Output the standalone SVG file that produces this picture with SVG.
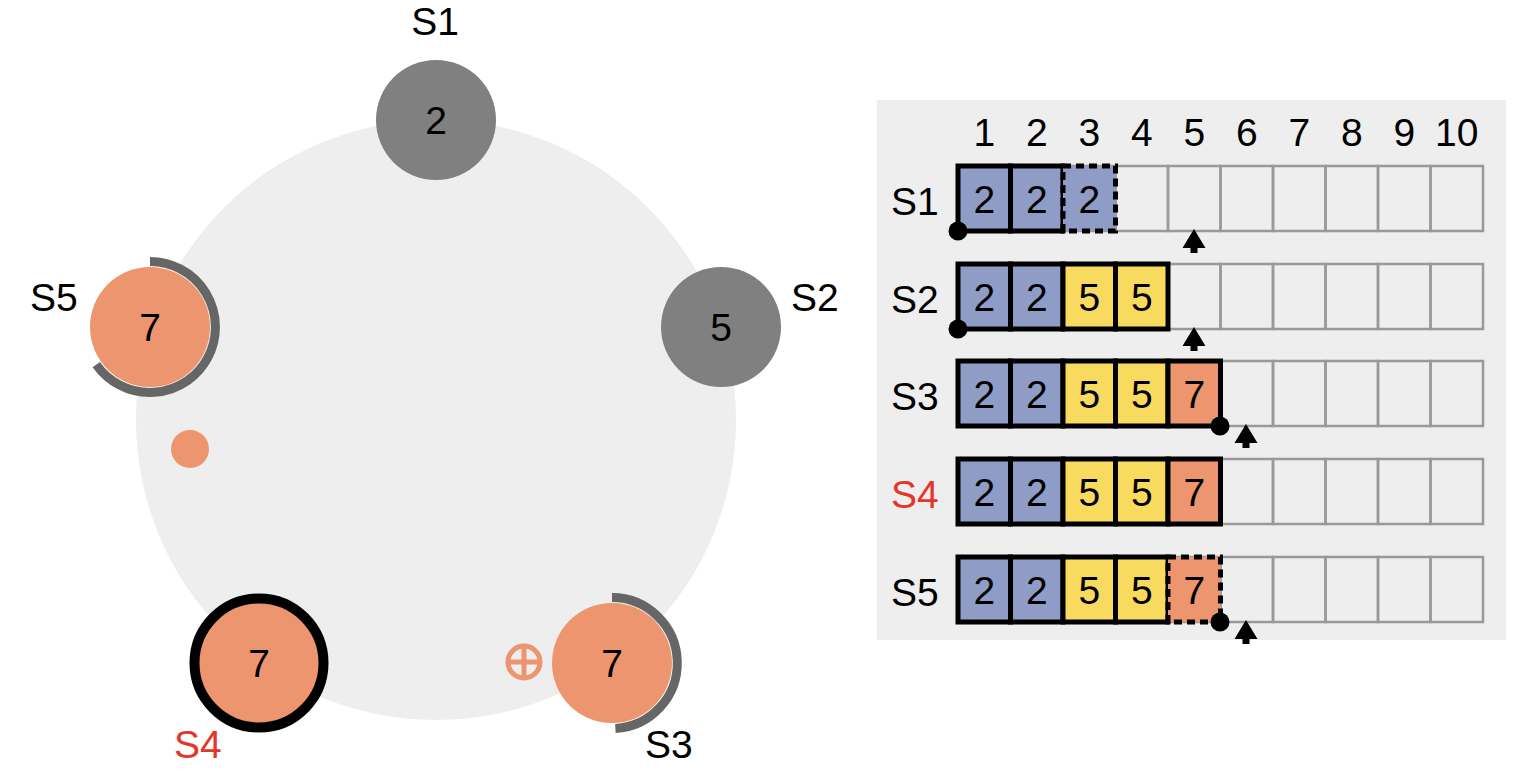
<svg xmlns="http://www.w3.org/2000/svg" width="1524" height="780" viewBox="0 0 1524 780">
<style>
text{font-family:"Liberation Sans",Arial,sans-serif;font-size:39px;fill:#000}
.c{text-anchor:middle}
.red{fill:#E5352A}
.gray{fill:#808080}
.org{fill:#EC956E}
.arc{fill:none;stroke:#666;stroke-width:9}
.grid{fill:none;stroke:#999;stroke-width:2.5}
.cell{stroke:#000;stroke-width:5}
.dash{stroke:#000;stroke-width:5;stroke-dasharray:8 5}
.b{fill:#8F9DC6}
.y{fill:#F8DB5E}
.o{fill:#EC956E}
</style>
<defs>
<path id="arrow" d="M0,-2 L11.5,17 L3.5,17 L3.5,22 L-3.5,22 L-3.5,17 L-11.5,17 Z" fill="#000"/>
<g id="gridrow">
<rect class="grid" x="958" y="0" width="52.5" height="65"/>
<rect class="grid" x="1010.5" y="0" width="52.5" height="65"/>
<rect class="grid" x="1063" y="0" width="52.5" height="65"/>
<rect class="grid" x="1115.5" y="0" width="52.5" height="65"/>
<rect class="grid" x="1168" y="0" width="52.5" height="65"/>
<rect class="grid" x="1220.5" y="0" width="52.5" height="65"/>
<rect class="grid" x="1273" y="0" width="52.5" height="65"/>
<rect class="grid" x="1325.5" y="0" width="52.5" height="65"/>
<rect class="grid" x="1378" y="0" width="52.5" height="65"/>
<rect class="grid" x="1430.5" y="0" width="52.5" height="65"/>
</g>
</defs>
<rect width="1524" height="780" fill="#fff"/>
<circle cx="436" cy="420" r="300" fill="#EEEEEE"/>
<g id="node-S1">
<circle cx="436" cy="120" r="60" class="gray"/>
<text class="c" x="436" y="134">2</text>
<text class="c" x="435" y="35">S1</text>
</g>
<g id="node-S2">
<circle cx="721" cy="327" r="60" class="gray"/>
<text class="c" x="721" y="341">5</text>
<text x="791" y="311">S2</text>
</g>
<g id="node-S5">
<path class="arc" d="M150,261.5 A65.5,65.5 0 1 1 96.3,364.6"/>
<circle cx="150" cy="327" r="60" class="org"/>
<text class="c" x="150" y="341">7</text>
<text x="30" y="311">S5</text>
</g>
<g id="node-dot">
<circle cx="190" cy="449" r="19" class="org"/>
</g>
<g id="node-S4">
<circle cx="259" cy="663" r="64.5" fill="#EC956E" stroke="#000" stroke-width="10"/>
<text class="c" x="259" y="677">7</text>
<text class="red" x="174" y="758">S4</text>
</g>
<g id="node-S3">
<path class="arc" d="M612,597.5 A65.5,65.5 0 0 1 615.4,728.4"/>
<circle cx="612" cy="663" r="60" class="org"/>
<text class="c" x="612" y="677">7</text>
<text x="645" y="758">S3</text>
<g fill="none" stroke="#EC956E" stroke-width="5">
<circle cx="524" cy="662" r="16"/>
<line x1="524" y1="646" x2="524" y2="678"/>
<line x1="508" y1="662" x2="540" y2="662"/>
</g>
</g>
<g id="log-panel">
<rect x="877" y="100" width="629" height="540" fill="#EEEEEE"/>
<g id="headers">
<text class="c" x="984.25" y="146">1</text>
<text class="c" x="1036.75" y="146">2</text>
<text class="c" x="1089.25" y="146">3</text>
<text class="c" x="1141.75" y="146">4</text>
<text class="c" x="1194.25" y="146">5</text>
<text class="c" x="1246.75" y="146">6</text>
<text class="c" x="1299.25" y="146">7</text>
<text class="c" x="1351.75" y="146">8</text>
<text class="c" x="1404.25" y="146">9</text>
<text class="c" x="1456.75" y="146">10</text>
</g>
<g id="row-S1">
<use href="#gridrow" y="166"/>
<text x="891" y="215">S1</text>
<rect class="cell b" x="958" y="166" width="52.5" height="65"/>
<rect class="cell b" x="1010.5" y="166" width="52.5" height="65"/>
<rect class="dash b" x="1063" y="166" width="52.5" height="65"/>
<text class="c" x="984.25" y="213">2</text>
<text class="c" x="1036.75" y="213">2</text>
<text class="c" x="1089.25" y="213">2</text>
<circle cx="958" cy="231" r="9.5"/>
<use href="#arrow" x="1194" y="231"/>
</g>
<g id="row-S2">
<use href="#gridrow" y="264"/>
<text x="891" y="313">S2</text>
<rect class="cell b" x="958" y="264" width="52.5" height="65"/>
<rect class="cell b" x="1010.5" y="264" width="52.5" height="65"/>
<rect class="cell y" x="1063" y="264" width="52.5" height="65"/>
<rect class="cell y" x="1115.5" y="264" width="52.5" height="65"/>
<text class="c" x="984.25" y="311">2</text>
<text class="c" x="1036.75" y="311">2</text>
<text class="c" x="1089.25" y="311">5</text>
<text class="c" x="1141.75" y="311">5</text>
<circle cx="958" cy="329" r="9.5"/>
<use href="#arrow" x="1194" y="329"/>
</g>
<g id="row-S3">
<use href="#gridrow" y="361"/>
<text x="891" y="410">S3</text>
<rect class="cell b" x="958" y="361" width="52.5" height="65"/>
<rect class="cell b" x="1010.5" y="361" width="52.5" height="65"/>
<rect class="cell y" x="1063" y="361" width="52.5" height="65"/>
<rect class="cell y" x="1115.5" y="361" width="52.5" height="65"/>
<rect class="cell o" x="1168" y="361" width="52.5" height="65"/>
<text class="c" x="984.25" y="408">2</text>
<text class="c" x="1036.75" y="408">2</text>
<text class="c" x="1089.25" y="408">5</text>
<text class="c" x="1141.75" y="408">5</text>
<text class="c" x="1194.25" y="408">7</text>
<circle cx="1220" cy="426" r="9.5"/>
<use href="#arrow" x="1246" y="426"/>
</g>
<g id="row-S4">
<use href="#gridrow" y="459"/>
<text class="red" x="891" y="508">S4</text>
<rect class="cell b" x="958" y="459" width="52.5" height="65"/>
<rect class="cell b" x="1010.5" y="459" width="52.5" height="65"/>
<rect class="cell y" x="1063" y="459" width="52.5" height="65"/>
<rect class="cell y" x="1115.5" y="459" width="52.5" height="65"/>
<rect class="cell o" x="1168" y="459" width="52.5" height="65"/>
<text class="c" x="984.25" y="506">2</text>
<text class="c" x="1036.75" y="506">2</text>
<text class="c" x="1089.25" y="506">5</text>
<text class="c" x="1141.75" y="506">5</text>
<text class="c" x="1194.25" y="506">7</text>
</g>
<g id="row-S5">
<use href="#gridrow" y="557"/>
<text x="891" y="606">S5</text>
<rect class="cell b" x="958" y="557" width="52.5" height="65"/>
<rect class="cell b" x="1010.5" y="557" width="52.5" height="65"/>
<rect class="cell y" x="1063" y="557" width="52.5" height="65"/>
<rect class="cell y" x="1115.5" y="557" width="52.5" height="65"/>
<rect class="dash o" x="1168" y="557" width="52.5" height="65"/>
<text class="c" x="984.25" y="604">2</text>
<text class="c" x="1036.75" y="604">2</text>
<text class="c" x="1089.25" y="604">5</text>
<text class="c" x="1141.75" y="604">5</text>
<text class="c" x="1194.25" y="604">7</text>
<circle cx="1220" cy="622" r="9.5"/>
<use href="#arrow" x="1246" y="622"/>
</g>
</g>
</svg>
